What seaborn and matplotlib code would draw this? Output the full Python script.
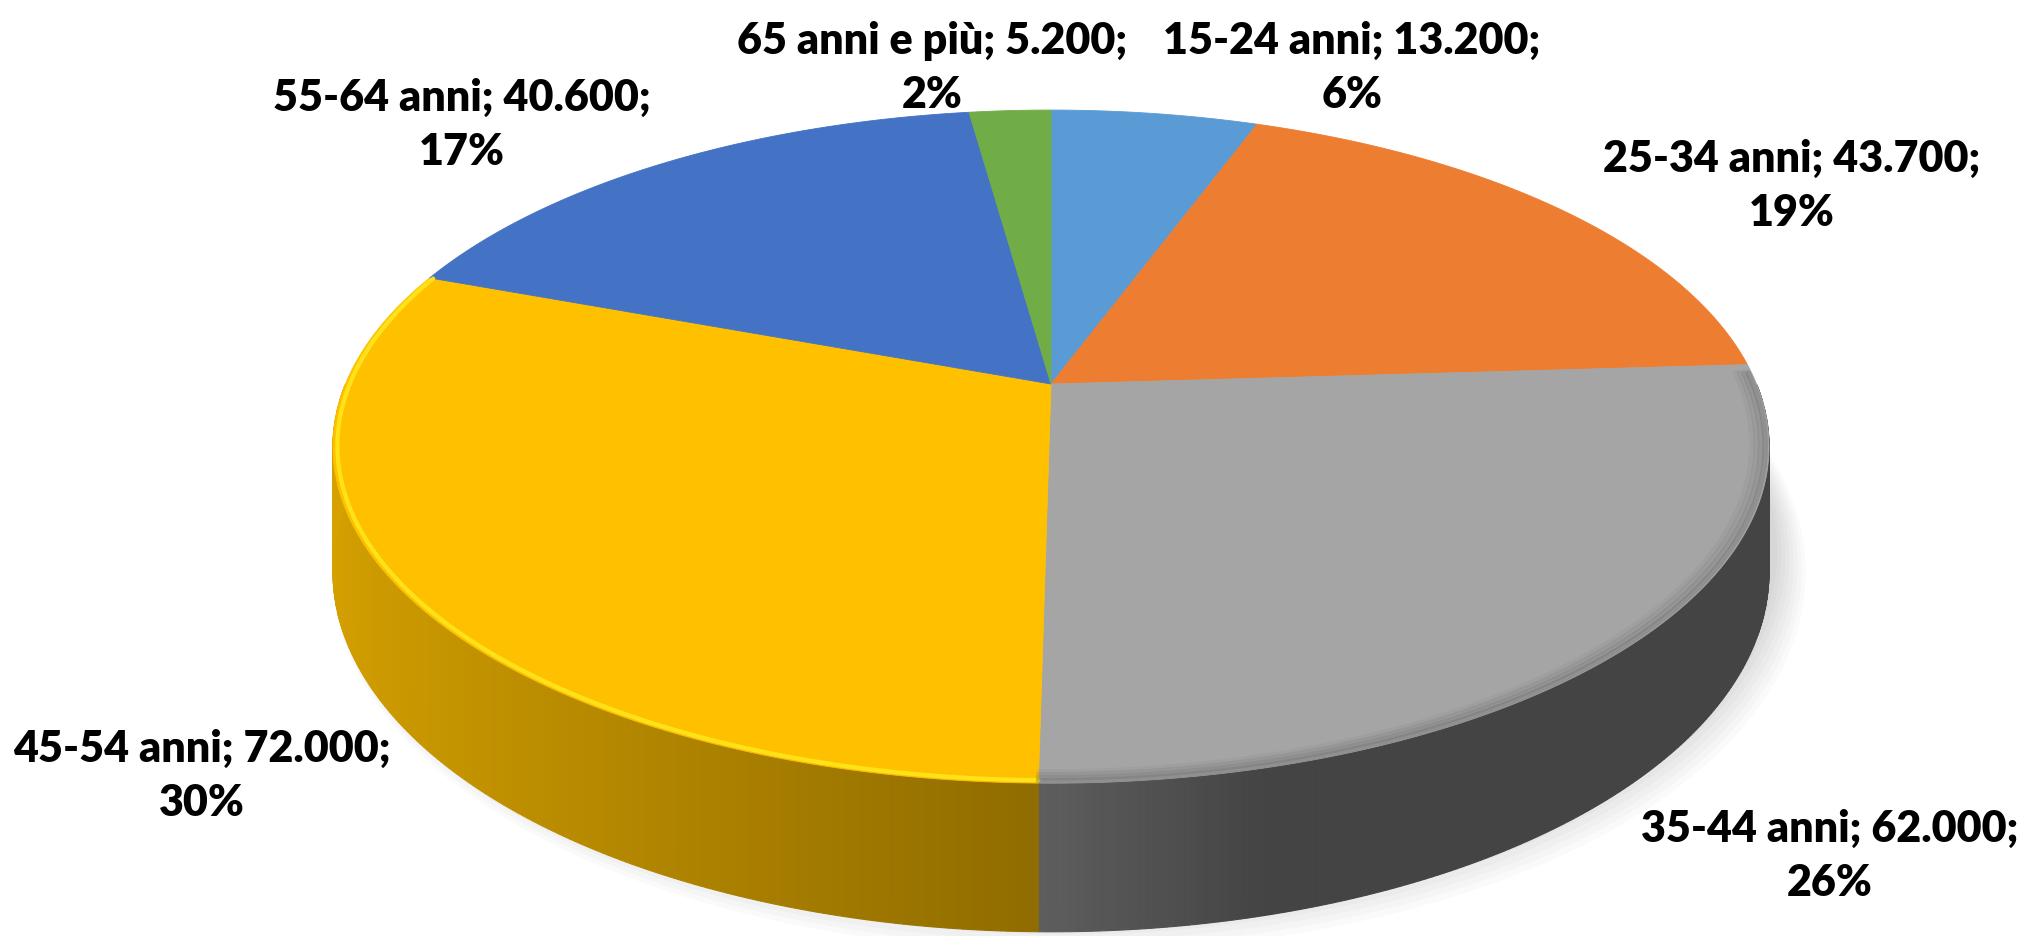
"""
3D-looking pie of employed people by age group (Office style).
The top disc and the side wall are projected with a simple perspective
so the apex sits above the ellipse centre, like in the original chart.
"""

import numpy as np
import matplotlib
matplotlib.use("Agg")
import matplotlib.pyplot as plt
import seaborn as sns

AGE_GROUPS = ["15-24 anni", "25-34 anni", "35-44 anni", "45-54 anni", "55-64 anni", "65 anni e più"]
WORKERS = [13200, 43700, 62000, 72000, 40600, 5200]
PERCENT_LABELS = [6, 19, 26, 30, 17, 2]
COLORS = ["#5B9BD5", "#ED7D31", "#A5A5A5", "#FFC000", "#4472C4", "#70AD47"]

# label block centres, pixels from top-left
LABEL_POS = [(1352, 68), (1792, 186), (1830, 856), (202, 776), (462, 125), (932, 68)]

W, H = 2029, 936
CX, CY = 1051, 384      # apex of the pie
A, B, K = 705.5, 324.9, 0.186
T0 = 121                # wall height (before perspective)


def project(X, Y, drop=0.0):
    w = 1 + K * Y
    return CX + A * X / w, CY - B * Y / w + drop / w


def shade(X):
    s = np.where(X < 0, 0.56 - 0.28 * X, np.maximum(0.41, 0.56 - 0.6 * X))
    return s


def fmt_it(v):
    return f"{v:,}".replace(",", ".")


def draw_chart():
    sns.set_theme(style="white")
    plt.rcParams["font.family"] = ["Lato", "DejaVu Sans"]

    fig = plt.figure(figsize=(W / 100, H / 100), dpi=100)
    ax = fig.add_axes([0, 0, 1, 1])
    ax.set_xlim(0, W)
    ax.set_ylim(H, 0)
    ax.axis("off")

    vals = np.array(WORKERS, dtype=float)
    fracs = np.concatenate([[0], np.cumsum(vals) / vals.sum()])
    starts = 90 - 360 * fracs[:-1]
    ends = 90 - 360 * fracs[1:]

    # soft shadow round the base, pushed a little to the lower right
    th = np.radians(np.linspace(-178, 8, 300))
    for i in range(8):
        u, v = project(np.cos(th), np.sin(th), drop=T0 - 20 + 3 * i)
        ax.plot(u + 4 + 2 * i, v, color="#000000", alpha=0.02, lw=6 + 3 * i,
                solid_capstyle="round", zorder=0)

    # side wall (front half only)
    for s, e, c in zip(starts, ends, COLORS):
        lo, hi = max(e, -180), min(s, 0)
        if lo >= hi:
            continue
        base = np.array(matplotlib.colors.to_rgb(c))
        n = max(2, int((hi - lo) * 2))
        edges = np.radians(np.linspace(hi, lo, n + 1))
        for a0, a1 in zip(edges[:-1], edges[1:]):
            X = np.cos([a0, a1])
            Y = np.sin([a0, a1])
            ut, vt = project(X, Y)
            ub, vb = project(X, Y, drop=T0)
            col = np.clip(base * shade((X[0] + X[1]) / 2), 0, 1)
            ax.fill([ut[0], ut[1], ub[1], ub[0]], [vt[0], vt[1], vb[1], vb[0]],
                    color=col, lw=0.8, ec=col, zorder=1)

    # top disc
    for s, e, c in zip(starts, ends, COLORS):
        n = max(4, int(abs(s - e) * 3))
        t = np.radians(np.linspace(s, e, n))
        X = np.concatenate([[0], np.cos(t)])
        Y = np.concatenate([[0], np.sin(t)])
        u, v = project(X, Y)
        ax.fill(u, v, color=c, lw=0.6, ec=c, zorder=2)

    # bevel along the rim
    t = np.radians(np.linspace(ends[3], starts[3], 200))
    u, v = project(0.994 * np.cos(t), 0.994 * np.sin(t))
    ax.plot(u, v, color="#FFE61A", lw=3, alpha=0.95, zorder=3)
    t = np.radians(np.linspace(ends[2], 2, 200))
    for i, a in enumerate([0.25, 0.18, 0.12, 0.07]):
        r = 0.995 - 0.006 * i
        u, v = project(r * np.cos(t), r * np.sin(t))
        ax.plot(u, v, color="#555555", lw=4, alpha=a, zorder=3)

    for name, val, pct, (x, y) in zip(AGE_GROUPS, WORKERS, PERCENT_LABELS, LABEL_POS):
        ax.text(x, y, f"{name}; {fmt_it(val)};\n{pct}%", ha="center", va="center",
                fontsize=31, fontweight="heavy", color="black", linespacing=1.4, zorder=5)

    fig.savefig("out.png", dpi=100)
    plt.close(fig)


if __name__ == "__main__":
    draw_chart()
